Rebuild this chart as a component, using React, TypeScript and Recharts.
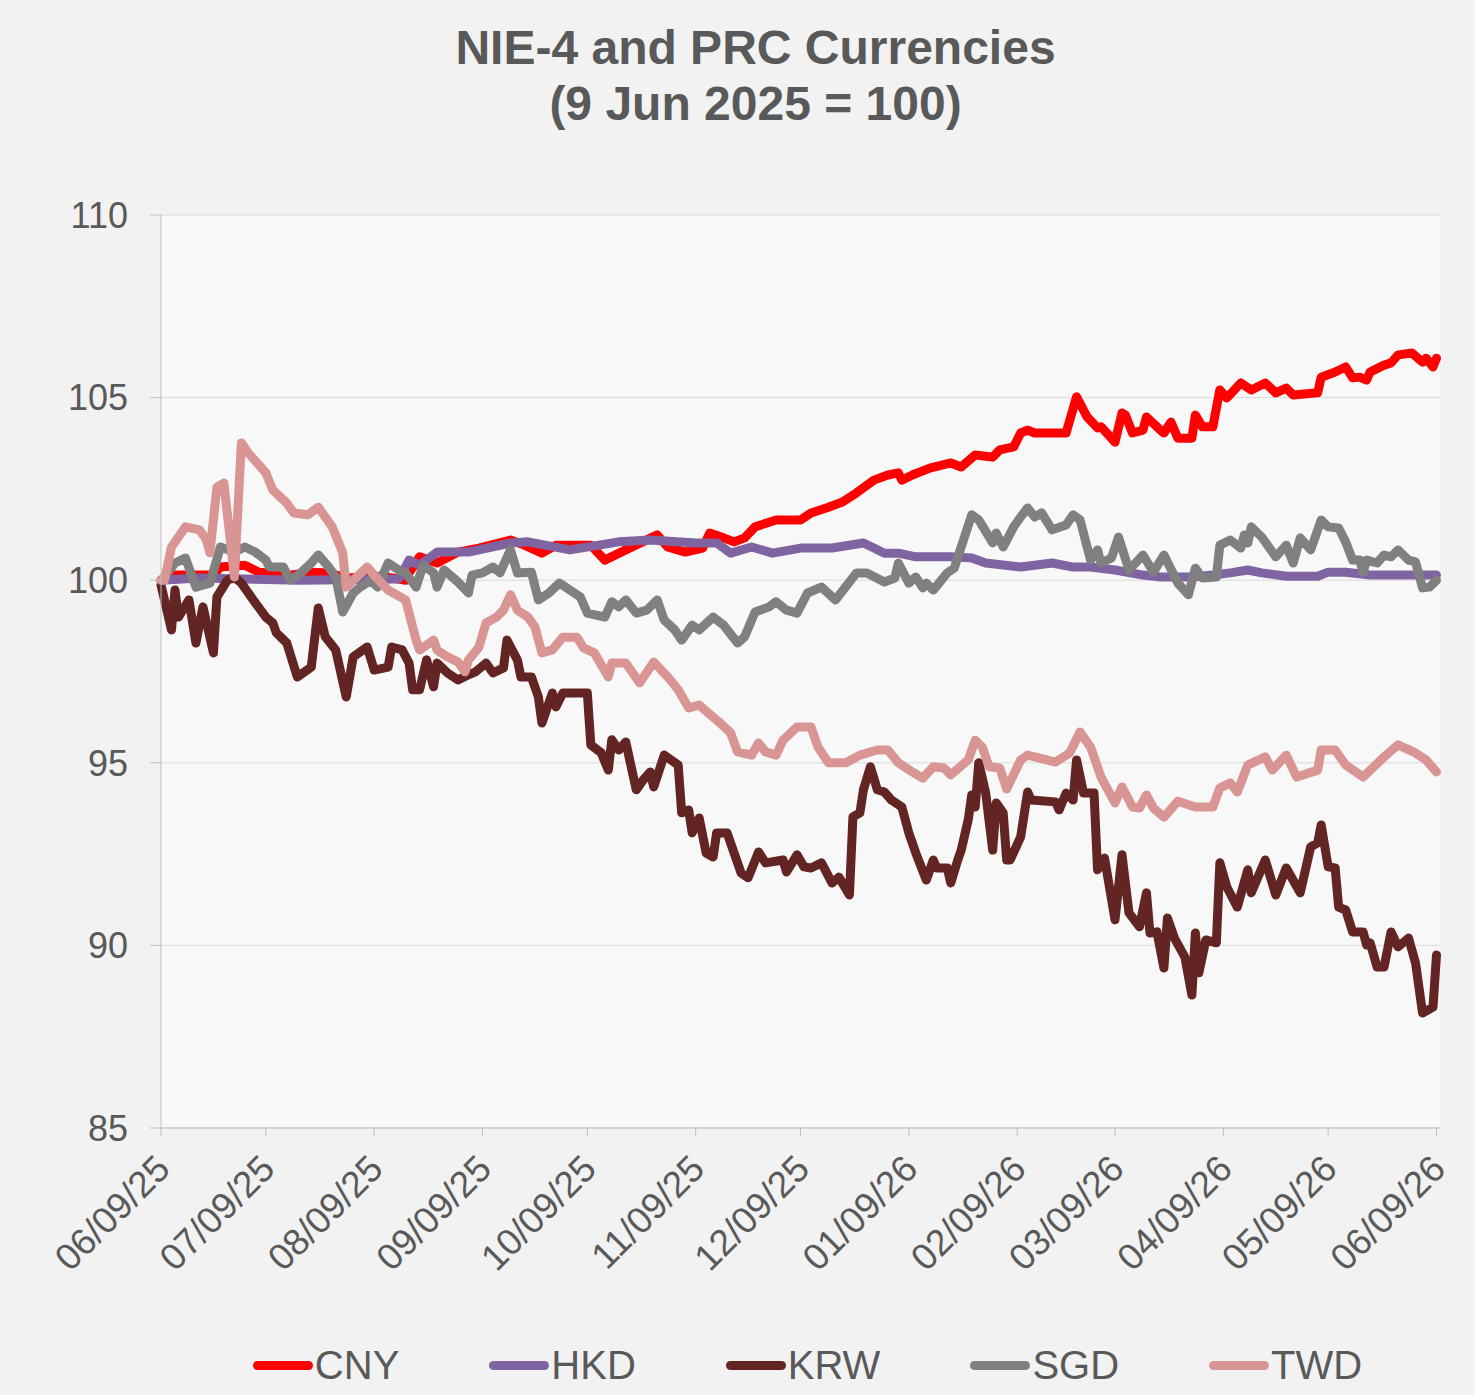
import React from 'react'
import { LineChart, Line, XAxis, YAxis, CartesianGrid } from 'recharts'

// x = days since 9 Jun 2025, y = index (9 Jun 2025 = 100)
const START = Date.UTC(2025, 5, 9)
const DAY_MS = 86400000

const CNY_DAY = [
  0, 4, 15, 17, 24, 28, 37, 43, 48, 53,
  63, 70, 71, 74, 79, 85, 91, 100, 104, 109,
  113, 123, 127, 133, 142, 145, 150, 155, 157, 161,
  164, 167, 170, 176, 183, 186, 191, 195, 199, 204,
  208, 211, 212, 215, 220, 226, 229, 233, 238, 240,
  244, 246, 248, 250, 259, 262, 265, 268, 269, 273,
  275, 276, 278, 281, 282, 285, 287, 289, 291, 295,
  296, 298, 301, 303, 305, 309, 312, 316, 319, 322,
  324, 331, 332, 336, 339, 341, 343, 345, 346, 350,
  352, 354, 358, 361, 362, 364, 365,
]
const CNY = [
  100.0, 100.14, 100.14, 100.36, 100.41, 100.22, 100.14, 100.22, 100.2, 100.06,
  100.11, 100.0, 100.2, 100.64, 100.47, 100.77, 100.88, 101.1, 100.96, 100.74,
  100.96, 100.96, 100.55, 100.83, 101.24, 100.91, 100.77, 100.88, 101.29, 101.16,
  101.05, 101.16, 101.46, 101.65, 101.65, 101.84, 102.0, 102.14, 102.39, 102.74,
  102.88, 102.94, 102.74, 102.88, 103.07, 103.21, 103.1, 103.43, 103.37, 103.57,
  103.65, 104.03, 104.11, 104.03, 104.03, 105.02, 104.47, 104.17, 104.2, 103.78,
  104.58, 104.52, 104.03, 104.11, 104.47, 104.2, 104.03, 104.33, 103.89, 103.89,
  104.52, 104.2, 104.2, 105.21, 104.99, 105.4, 105.21, 105.4, 105.13, 105.26,
  105.07, 105.13, 105.56, 105.7, 105.84, 105.54, 105.56, 105.48, 105.7, 105.89,
  105.95, 106.17, 106.22, 105.97, 106.08, 105.84, 106.08,
]

const HKD_DAY = [
  0, 11, 40, 68, 71, 74, 79, 88, 100, 105,
  117, 131, 140, 153, 159, 163, 169, 175, 183, 192,
  201, 204, 207, 211, 216, 226, 232, 236, 246, 255,
  261, 266, 273, 281, 286, 295, 301, 306, 311, 315,
  322, 331, 334, 339, 346, 356, 365,
]
const HKD = [
  100.0, 100.06, 100.0, 100.03, 100.55, 100.41, 100.77, 100.77, 101.02, 101.05,
  100.83, 101.05, 101.1, 101.02, 101.02, 100.74, 100.91, 100.74, 100.88, 100.88,
  101.02, 100.88, 100.74, 100.74, 100.64, 100.64, 100.61, 100.47, 100.36, 100.47,
  100.36, 100.36, 100.28, 100.14, 100.09, 100.09, 100.14, 100.2, 100.28, 100.2,
  100.11, 100.11, 100.22, 100.22, 100.14, 100.14, 100.14,
]

const KRW_DAY = [
  0, 3, 4, 5, 8, 10, 12, 15, 16, 19,
  21, 23, 27, 30, 32, 33, 36, 39, 43, 45,
  47, 50, 53, 55, 59, 61, 65, 66, 69, 71,
  72, 74, 76, 78, 79, 82, 85, 88, 90, 93,
  95, 98, 99, 102, 103, 106, 108, 109, 112, 113,
  115, 122, 123, 126, 128, 129, 131, 133, 136, 138,
  140, 141, 144, 148, 149, 151, 152, 154, 156, 158,
  159, 162, 164, 166, 168, 171, 173, 178, 179, 182,
  184, 186, 189, 192, 194, 197, 198, 200, 201, 203,
  205, 207, 209, 212, 214, 216, 219, 221, 222, 225,
  226, 228, 229, 231, 232, 233, 234, 236, 238, 239,
  241, 242, 243, 246, 248, 249, 256, 257, 259, 261,
  262, 264, 267, 268, 270, 273, 275, 277, 280, 282,
  283, 285, 287, 288, 290, 293, 295, 296, 297, 299,
  302, 303, 305, 308, 311, 312, 316, 319, 322, 326,
  329, 331, 332, 334, 336, 337, 339, 341, 344, 345,
  346, 348, 350, 352, 354, 357, 359, 361, 364, 365,
]
const KRW = [
  99.87, 98.64, 99.73, 98.99, 99.46, 98.28, 99.27, 98.01, 99.54, 100.0,
  100.09, 99.92, 99.38, 98.99, 98.83, 98.56, 98.28, 97.35, 97.62, 99.24,
  98.45, 98.09, 96.8, 97.9, 98.17, 97.54, 97.62, 98.17, 98.09, 97.73,
  97.0, 97.0, 97.82, 97.08, 97.73, 97.46, 97.27, 97.41, 97.49, 97.73,
  97.46, 97.6, 98.36, 97.81, 97.35, 97.35, 96.8, 96.09, 96.91, 96.53,
  96.91, 96.91, 95.49, 95.27, 94.8, 95.63, 95.35, 95.57, 94.26, 94.53,
  94.75, 94.34, 95.21, 94.94, 93.63, 93.71, 93.08, 93.49, 92.53, 92.42,
  93.08, 93.08, 92.53, 91.98, 91.85, 92.56, 92.26, 92.34, 92.01, 92.48,
  92.15, 92.12, 92.26, 91.71, 91.87, 91.38, 93.52, 93.63, 94.26, 94.89,
  94.26, 94.2, 93.98, 93.79, 93.08, 92.53, 91.79, 92.34, 92.12, 92.12,
  91.71, 92.34, 92.61, 93.44, 94.12, 93.79, 95.0, 94.17, 92.61, 93.9,
  93.63, 92.34, 92.34, 92.97, 94.2, 93.98, 93.93, 93.71, 94.17, 93.98,
  95.08, 94.17, 94.17, 92.07, 92.39, 90.7, 92.48, 90.89, 90.51, 91.44,
  90.34, 90.37, 89.38, 90.75, 90.2, 89.68, 88.64, 90.34, 89.25, 90.15,
  90.07, 92.26, 91.6, 91.05, 92.07, 91.44, 92.34, 91.38, 92.12, 91.44,
  92.7, 92.81, 93.3, 92.15, 92.12, 91.05, 90.97, 90.37, 90.37, 90.01,
  90.07, 89.41, 89.41, 90.37, 89.96, 90.2, 89.52, 88.15, 88.31, 89.74,
]

const SGD_DAY = [
  0, 1, 4, 7, 10, 14, 17, 21, 24, 27,
  30, 31, 35, 37, 40, 43, 45, 48, 50, 52,
  55, 57, 60, 62, 65, 68, 70, 73, 75, 78,
  79, 81, 85, 88, 89, 92, 95, 97, 100, 102,
  106, 108, 111, 114, 117, 120, 122, 127, 129, 131,
  133, 136, 139, 142, 144, 147, 149, 152, 154, 158,
  161, 165, 167, 170, 174, 176, 179, 182, 185, 189,
  193, 199, 202, 207, 210, 211, 214, 216, 218, 219,
  221, 225, 227, 232, 234, 238, 239, 241, 244, 246,
  248, 250, 252, 255, 259, 261, 263, 266, 268, 269,
  272, 274, 277, 281, 284, 287, 291, 294, 296, 298,
  302, 303, 306, 309, 310, 311, 312, 315, 319, 322,
  324, 326, 329, 332, 334, 337, 339, 341, 343, 344,
  345, 348, 350, 352, 354, 357, 359, 361, 363, 365,
]
const SGD = [
  100.0, 100.09, 100.47, 100.61, 99.81, 99.92, 100.91, 100.77, 100.91, 100.77,
  100.55, 100.36, 100.36, 100.0, 100.2, 100.47, 100.69, 100.36, 100.09, 99.13,
  99.65, 99.81, 100.0, 99.81, 100.47, 100.28, 100.2, 99.81, 100.41, 100.2,
  99.81, 100.28, 99.95, 99.65, 100.14, 100.2, 100.36, 100.2, 100.83, 100.2,
  100.22, 99.46, 99.65, 99.92, 99.73, 99.54, 99.1, 98.99, 99.41, 99.27,
  99.46, 99.1, 99.18, 99.46, 98.91, 98.64, 98.36, 98.77, 98.64, 98.99,
  98.77, 98.28, 98.45, 99.13, 99.27, 99.41, 99.18, 99.1, 99.65, 99.81,
  99.46, 100.2, 100.2, 99.95, 100.06, 100.47, 99.92, 100.09, 99.79, 99.92,
  99.73, 100.2, 100.33, 101.79, 101.65, 101.02, 101.29, 100.91, 101.46, 101.73,
  101.98, 101.73, 101.84, 101.38, 101.51, 101.79, 101.65, 100.55, 100.83, 100.47,
  100.61, 101.18, 100.28, 100.69, 100.22, 100.69, 99.92, 99.6, 100.33, 100.06,
  100.09, 100.96, 101.1, 100.88, 101.24, 101.02, 101.46, 101.18, 100.64, 100.96,
  100.47, 101.16, 100.83, 101.65, 101.46, 101.43, 101.05, 100.55, 100.55, 100.22,
  100.55, 100.47, 100.69, 100.64, 100.83, 100.55, 100.5, 99.79, 99.81, 100.0,
]

const TWD_DAY = [
  0, 1, 3, 7, 11, 13, 14, 16, 18, 21,
  23, 25, 30, 32, 36, 38, 42, 45, 49, 52,
  53, 56, 59, 61, 65, 70, 73, 74, 78, 79,
  82, 85, 87, 88, 91, 93, 96, 98, 100, 102,
  105, 107, 109, 112, 115, 119, 121, 124, 128, 129,
  133, 137, 141, 145, 148, 151, 154, 158, 160, 163,
  165, 169, 171, 173, 176, 178, 182, 186, 188, 191,
  196, 200, 205, 208, 211, 215, 218, 221, 224, 226,
  231, 233, 235, 237, 240, 242, 246, 248, 256, 260,
  263, 266, 269, 273, 275, 278, 280, 282, 284, 287,
  291, 296, 301, 303, 306, 308, 311, 316, 318, 322,
  325, 331, 332, 336, 339, 344, 350, 354, 359, 362,
  365,
]
const TWD = [
  100.0, 100.0, 100.91, 101.46, 101.38, 101.1, 100.75, 102.55, 102.66, 100.09,
  103.76, 103.48, 102.94, 102.47, 102.11, 101.84, 101.79, 102.0, 101.46, 100.75,
  99.81, 100.09, 100.36, 100.14, 99.73, 99.46, 98.36, 98.09, 98.36, 98.09,
  97.9, 97.76, 97.49, 97.82, 98.17, 98.83, 98.99, 99.18, 99.6, 99.18,
  98.99, 98.72, 98.01, 98.09, 98.44, 98.44, 98.14, 98.01, 97.35, 97.73,
  97.73, 97.19, 97.76, 97.35, 97.0, 96.5, 96.58, 96.25, 96.09, 95.82,
  95.3, 95.21, 95.54, 95.3, 95.21, 95.62, 95.98, 95.98, 95.43, 95.0,
  95.0, 95.21, 95.35, 95.35, 95.0, 94.75, 94.58, 94.89, 94.86, 94.67,
  95.08, 95.62, 95.43, 94.89, 94.86, 94.28, 95.08, 95.21, 95.02, 95.27,
  95.84, 95.43, 94.61, 93.9, 94.34, 93.79, 93.76, 94.12, 93.76, 93.51,
  93.95, 93.79, 93.79, 94.31, 94.45, 94.2, 94.94, 95.16, 94.8, 95.21,
  94.61, 94.8, 95.35, 95.35, 94.94, 94.61, 95.16, 95.49, 95.27, 95.08,
  94.75,
]

const Y_TICKS = [85, 90, 95, 100, 105, 110]
// 9th of each month, Jun 2025 .. Jun 2026
const X_TICKS = Array.from({ length: 13 }, (_, i) => (Date.UTC(2025, 5 + i, 9) - START) / DAY_MS)

const SERIES = [
  { name: 'CNY', color: '#ff0000', days: CNY_DAY, values: CNY },
  { name: 'HKD', color: '#8064a2', days: HKD_DAY, values: HKD },
  { name: 'KRW', color: '#632523', days: KRW_DAY, values: KRW },
  { name: 'SGD', color: '#808080', days: SGD_DAY, values: SGD },
  { name: 'TWD', color: '#d99594', days: TWD_DAY, values: TWD },
]

const TEXT = '#595959'
const FONT = '"Liberation Sans", Arial, sans-serif'

function fmtDate(day: number) {
  const d = new Date(START + day * DAY_MS)
  const p = (n: number) => String(n).padStart(2, '0')
  return `${p(d.getUTCMonth() + 1)}/${p(d.getUTCDate())}/${p(d.getUTCFullYear() % 100)}`
}

function DateTick({ x, y, payload }: any) {
  return (
    <text
      transform={`translate(${x + 11},${y + 33}) rotate(-45)`}
      textAnchor="end"
      fill={TEXT}
      fontSize={37}
    >
      {fmtDate(payload.value)}
    </text>
  )
}

export default function App() {
  return (
    <div
      style={{
        position: 'absolute',
        left: 0,
        top: 0,
        width: 1475,
        height: 1395,
        background: '#f2f2f2',
        fontFamily: FONT,
      }}
    >
      <div
        style={{
          position: 'absolute',
          top: 20,
          left: 18,
          width: 1475,
          textAlign: 'center',
          fontSize: 48,
          lineHeight: '56px',
          fontWeight: 700,
          color: TEXT,
        }}
      >
        NIE-4 and PRC Currencies
        <br />
        (9 Jun 2025 = 100)
      </div>

      <LineChart width={1475} height={1395} margin={{ top: 215, right: 35, bottom: 87, left: 0 }}>
        <CartesianGrid vertical={false} stroke="#d9d9d9" fill="#f8f8f8" />
        <XAxis
          type="number"
          dataKey="day"
          domain={[0, 366]}
          ticks={X_TICKS}
          interval={0}
          height={180}
          tick={<DateTick />}
          tickSize={8}
          axisLine={{ stroke: '#bfbfbf' }}
          tickLine={{ stroke: '#bfbfbf' }}
        />
        <YAxis
          type="number"
          domain={[85, 110]}
          ticks={Y_TICKS}
          width={161}
          tick={{ fill: TEXT, fontSize: 36 }}
          tickSize={11}
          tickMargin={22}
          axisLine={{ stroke: '#bfbfbf' }}
          tickLine={{ stroke: '#bfbfbf' }}
        />
        {SERIES.map((s) => (
          <Line
            key={s.name}
            data={s.days.map((d, i) => ({ day: d, value: s.values[i] }))}
            dataKey="value"
            name={s.name}
            type="linear"
            stroke={s.color}
            strokeWidth={9}
            strokeLinejoin="round"
            strokeLinecap="round"
            dot={false}
            isAnimationActive={false}
          />
        ))}
      </LineChart>

      {/* legend */}
      <div
        style={{
          position: 'absolute',
          top: 1341,
          left: 168,
          width: 1279,
          display: 'flex',
          justifyContent: 'center',
          gap: 90,
          fontSize: 40,
          lineHeight: '48px',
          color: TEXT,
        }}
      >
        {SERIES.map((s) => (
          <div key={s.name} style={{ display: 'flex', alignItems: 'center' }}>
            <span
              style={{
                display: 'inline-block',
                width: 60,
                height: 9,
                borderRadius: 4.5,
                background: s.color,
                marginRight: 2,
              }}
            />
            {s.name}
          </div>
        ))}
      </div>
    </div>
  )
}
